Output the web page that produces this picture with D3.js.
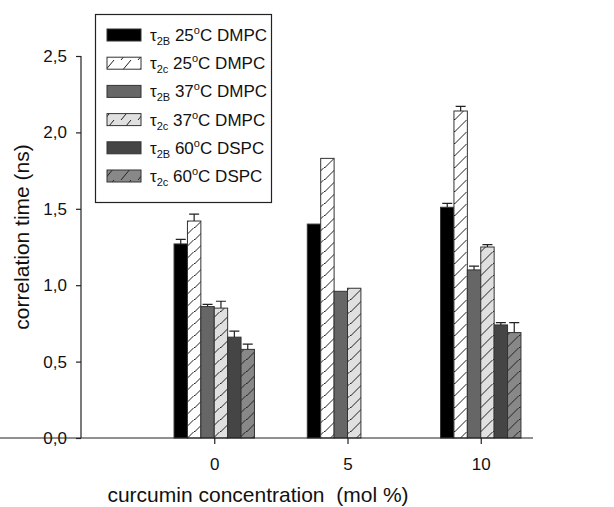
<!DOCTYPE html>
<html><head><meta charset="utf-8">
<script src="https://cdn.jsdelivr.net/npm/d3@7/dist/d3.min.js"></script>
<style>body{margin:0;background:#fff}svg{display:block;font-family:"Liberation Sans",Arial,sans-serif}</style>
</head><body><svg id="c" width="614" height="507"></svg>
<script>
const categories = [0, 5, 10];
const seriesSub = ["2B", "2c", "2B", "2c", "2B", "2c"];
const seriesTemp = ["25", "25", "37", "37", "60", "60"];
const seriesLipid = ["DMPC", "DMPC", "DMPC", "DMPC", "DSPC", "DSPC"];
const seriesFill = ["#000000", "#ffffff", "#666666", "#e0e0e0", "#454545", "#888888"];
const seriesHatch = [false, true, false, true, false, true];
const values = [
  [1.27, 1.40, 1.51],
  [1.42, 1.83, 2.14],
  [0.86, 0.96, 1.10],
  [0.85, 0.98, 1.25],
  [0.66, null, 0.74],
  [0.58, null, 0.69]
];
const errors = [
  [0.03, null, 0.025],
  [0.045, null, 0.03],
  [0.015, null, 0.025],
  [0.045, null, 0.015],
  [0.04, null, 0.015],
  [0.035, null, 0.065]
];
const yTicks = [0, 0.5, 1.0, 1.5, 2.0, 2.5];

const svg = d3.select("#c");
const x = d3.scaleLinear().domain([-5, 15]).range([81, 614]);
const y = d3.scaleLinear().domain([0, 2.5]).range([438, 56]);
const barW = 13.4;

const defs = svg.append("defs");
seriesFill.forEach((f, i) => {
  if (!seriesHatch[i]) return;
  const p = defs.append("pattern").attr("id", "h" + i).attr("patternUnits", "userSpaceOnUse")
    .attr("width", 13).attr("height", 12);
  p.append("rect").attr("width", 13).attr("height", 12).attr("fill", f);
  p.append("path").attr("d", "M-1,12.5 L12.5,-1 M11,13 L14,10").attr("stroke", "#222").attr("stroke-width", 1);
  const q = defs.append("pattern").attr("id", "l" + i).attr("patternUnits", "userSpaceOnUse")
    .attr("width", 17).attr("height", 12);
  q.append("rect").attr("width", 17).attr("height", 12).attr("fill", f);
  q.append("path").attr("d", "M2,12 L12,0").attr("stroke", "#222").attr("stroke-width", 1);
});

// bars
values.forEach((vals, s) => {
  vals.forEach((v, c) => {
    if (v == null) return;
    const cx = x(categories[c]) + (s - 2.5) * barW;
    svg.append("rect").attr("x", cx - barW / 2).attr("y", y(v))
      .attr("width", barW).attr("height", y(0) - y(v))
      .attr("fill", seriesHatch[s] ? "url(#h" + s + ")" : seriesFill[s])
      .attr("stroke", "#333").attr("stroke-width", 1);
    const e = errors[s][c];
    if (e != null) {
      svg.append("path").attr("d", `M${cx},${y(v)}V${y(v + e)}M${cx - 5},${y(v + e)}H${cx + 5}`)
        .attr("stroke", "#222").attr("stroke-width", 1.2).attr("fill", "none");
    }
  });
});

// axes
const yAxis = svg.append("g").attr("transform", "translate(81,0)")
  .call(d3.axisLeft(y).tickValues(yTicks).tickSize(5).tickPadding(9).tickFormat(d => d3.format(".1f")(d).replace(".", ",")));
const xAxis = svg.append("g").attr("transform", "translate(0,438)")
  .call(d3.axisBottom(x).tickValues(categories).tickSize(6).tickPadding(14).tickFormat(d => d));
[yAxis, xAxis].forEach(a => {
  a.select(".domain").attr("stroke", "#222").attr("stroke-width", 1.2);
  a.selectAll(".tick line").attr("stroke", "#222").attr("stroke-width", 1.2);
  a.selectAll("text").attr("fill", "#111").attr("font-size", 17).attr("font-family", "Liberation Sans, Arial, sans-serif");
});
yAxis.select(".domain").attr("d", "M0,56V438");
xAxis.select(".domain").attr("d", "M0,0H533");

svg.append("text").attr("transform", "translate(23,237) rotate(-90)").attr("text-anchor", "middle")
  .attr("dominant-baseline", "middle").attr("font-size", 21).attr("fill", "#111").text("correlation time (ns)");
svg.append("text").attr("x", 258).attr("y", 502).attr("text-anchor", "middle")
  .attr("font-size", 21).attr("fill", "#111").attr("xml:space", "preserve").text("curcumin concentration  (mol %)");

// legend
const lg = svg.append("g");
lg.append("rect").attr("x", 95.5).attr("y", 14.5).attr("width", 176).attr("height", 188)
  .attr("fill", "#fff").attr("stroke", "#222").attr("stroke-width", 1.2);
seriesFill.forEach((f, i) => {
  const cy = 35 + i * 28.2;
  lg.append("rect").attr("x", 107).attr("y", cy - 6).attr("width", 34).attr("height", 12)
    .attr("fill", seriesHatch[i] ? "url(#l" + i + ")" : f).attr("stroke", "#333").attr("stroke-width", 1);
  const t = lg.append("text").attr("x", 150).attr("y", cy + 6).attr("font-size", 17).attr("fill", "#111");
  t.append("tspan").text("τ");
  t.append("tspan").attr("font-size", 11).attr("dy", 4).text(seriesSub[i]);
  t.append("tspan").attr("dy", -4).text(" " + seriesTemp[i]);
  t.append("tspan").attr("font-size", 11).attr("dy", -7).text("o");
  t.append("tspan").attr("dy", 7).text("C " + seriesLipid[i]);
});
</script></body></html>
